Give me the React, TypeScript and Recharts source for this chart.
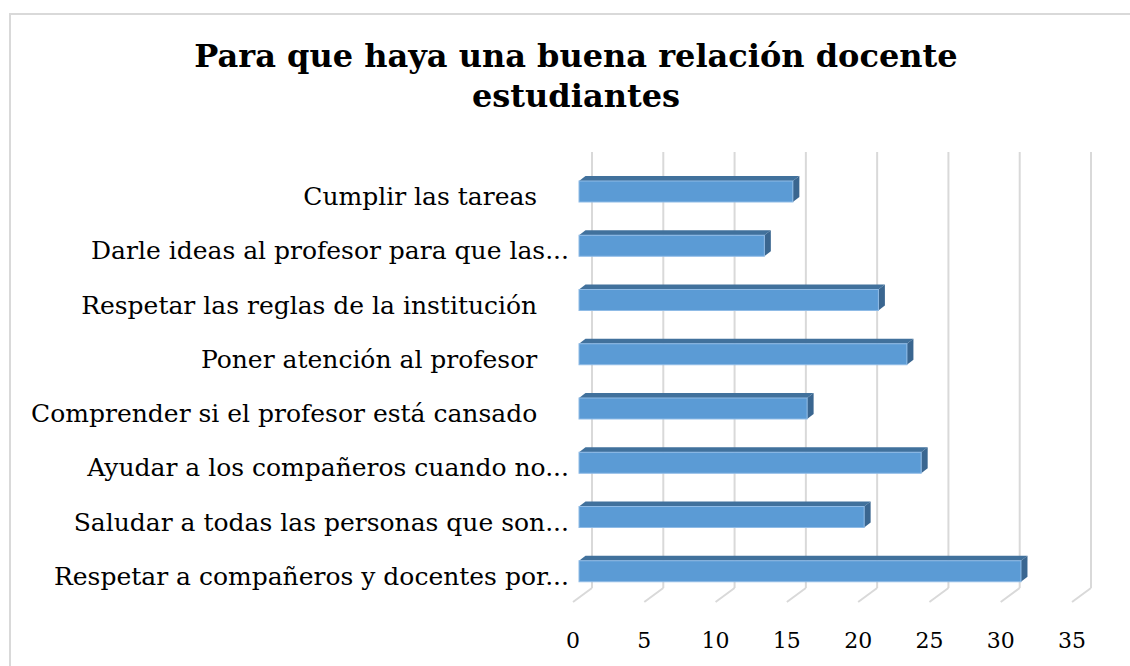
import React from 'react';
import { BarChart, Bar, XAxis, YAxis, CartesianGrid } from 'recharts';

const categories = [
  'Cumplir las tareas    ',
  'Darle ideas al profesor para que las...',
  'Respetar las reglas de la institución    ',
  'Poner atención al profesor    ',
  'Comprender si el profesor está cansado    ',
  'Ayudar a los compañeros cuando no...',
  'Saludar a todas las personas que son...',
  'Respetar a compañeros y docentes por...',
];
const values = [15, 13, 21, 23, 16, 24, 20, 31];
const xTicks = [0, 5, 10, 15, 20, 25, 30, 35];
const titleLines = ['Para que haya una buena relación docente', 'estudiantes'];

const data = categories.map((name, i) => ({ name, value: values[i] }));

const FONT = '"DejaVu Serif", serif';
const GRID = '#d9d9d9';
const DX = 6.5;
const DY = 5;

const Bar3D = (props: any) => {
  const { x, y, width, height } = props;
  if (width == null || height == null) return null;
  return (
    <g>
      <polygon
        points={`${x},${y} ${x + DX},${y - DY} ${x + width + DX},${y - DY} ${x + width},${y}`}
        fill="#41719c"
      />
      <polygon
        points={`${x + width},${y} ${x + width + DX},${y - DY} ${x + width + DX},${y + height - DY} ${x + width},${y + height}`}
        fill="#3a6690"
      />
      <rect x={x} y={y} width={width} height={height} fill="#5b9bd5" stroke="#8fbbe6" strokeWidth={1} />
    </g>
  );
};

const gridLine = (p: any) => {
  const { x1, y1, y2 } = p;
  return (
    <g key={p.key}>
      <line x1={x1 + 13} y1={y1 - 12} x2={x1 + 13} y2={y2 - 10} stroke={GRID} strokeWidth={2} />
      <line x1={x1 + 13} y1={y2 - 10} x2={x1 - 6} y2={y2 + 4} stroke={GRID} strokeWidth={2} />
    </g>
  );
};

const XTick = (props: any) => {
  const { x, y, payload } = props;
  return (
    <text x={x - 6} y={y + 50} textAnchor="middle" fontFamily={FONT} fontSize={22} fill="#000">
      {payload.value}
    </text>
  );
};

const YTick = (props: any) => {
  const { x, y, payload } = props;
  return (
    <text
      x={x - 10}
      y={y + 14}
      textAnchor="end"
      fontFamily={FONT}
      fontSize={25}
      fill="#000"
      xmlSpace="preserve"
      style={{ whiteSpace: 'pre' }}
    >
      {payload.value}
    </text>
  );
};

export default function App() {
  return (
    <div style={{ position: 'absolute', left: 0, top: 0, width: 1130, height: 666, overflow: 'hidden', background: '#fff' }}>
      <div
        style={{
          position: 'absolute',
          left: 9,
          top: 13,
          width: 1200,
          height: 800,
          border: `2px solid ${GRID}`,
          boxSizing: 'border-box',
        }}
      />
      <div
        style={{
          position: 'absolute',
          left: 0,
          top: 36,
          width: 1152,
          textAlign: 'center',
          fontFamily: FONT,
          fontWeight: 'bold',
          fontSize: 32,
          lineHeight: '40px',
          color: '#000',
        }}
      >
        {titleLines.map((t) => (
          <div key={t}>{t}</div>
        ))}
      </div>
      <div style={{ position: 'absolute', left: 0, top: 0 }}>
        <BarChart
          width={1130}
          height={666}
          data={data}
          layout="vertical"
          margin={{ top: 164, right: 52, bottom: 0, left: 0 }}
        >
          <CartesianGrid horizontal={false} vertical={gridLine} />
          <XAxis
            type="number"
            domain={[0, 35]}
            ticks={xTicks}
            height={68}
            axisLine={false}
            tickLine={false}
            tickSize={0}
            tickMargin={0}
            tick={<XTick />}
            interval={0}
          />
          <YAxis
            type="category"
            dataKey="name"
            width={579}
            axisLine={false}
            tickLine={false}
            tickSize={0}
            tickMargin={0}
            tick={<YTick />}
            interval={0}
          />
          <Bar dataKey="value" barSize={21} shape={<Bar3D />} isAnimationActive={false} />
        </BarChart>
      </div>
    </div>
  );
}
